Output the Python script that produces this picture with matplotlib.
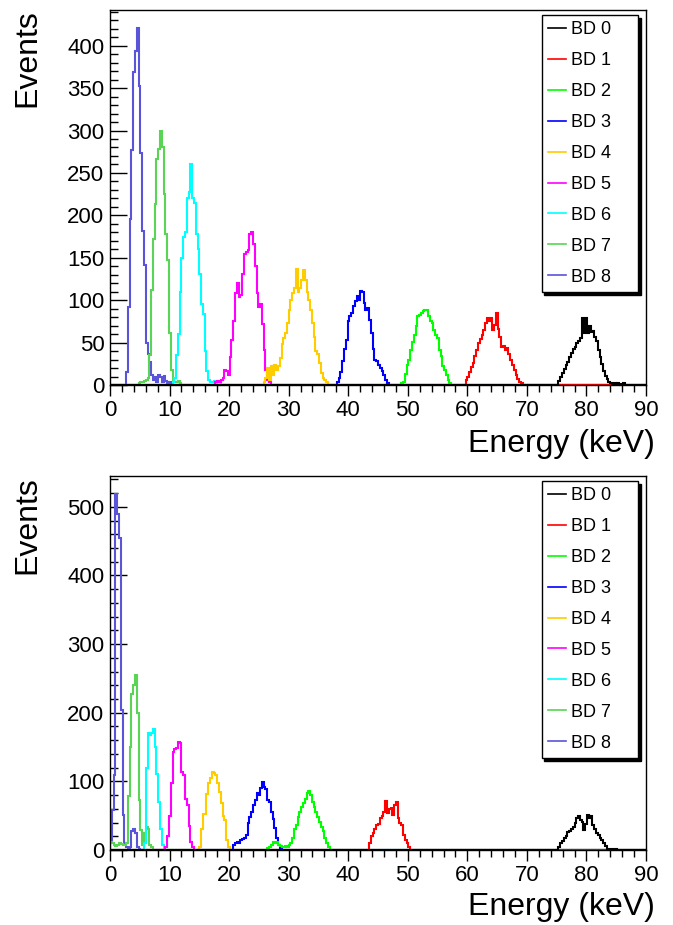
import numpy as np
import matplotlib
matplotlib.use('Agg')
import matplotlib.pyplot as plt
from matplotlib.lines import Line2D
from matplotlib.ticker import MultipleLocator

plt.rcParams['font.family'] = ['Liberation Sans', 'DejaVu Sans']

# Histogram binning (keV)
bin_width = 0.3
edges = np.arange(0, 90 + bin_width / 2, bin_width)

labels = [f'BD {i}' for i in range(9)]
colors = ['black', '#ff0000', '#00ff00', '#0000ff', '#ffcc00',
          '#ff00ff', '#00ffff', '#59d454', '#5954d8']

# Top panel: counts per bin, starting at the given energy (keV)
top_bd0_start = 75.3
top_bd0 = [5, 10, 14, 19, 24, 27, 33, 38, 43, 45, 49, 52, 55, 79, 61, 79, 61, 70,
           63, 64, 57, 52, 41, 33, 25, 17, 11, 7, 3, 2, 1, 2, 1, 2, 0, 1, 2]
top_bd1_start = 59.7
top_bd1 = [6, 10, 15, 21, 26, 34, 41, 49, 54, 59, 65, 73, 79, 75, 79, 65, 71, 85,
           66, 56, 45, 46, 41, 44, 36, 30, 24, 18, 12, 7, 4, 2]
top_bd2_start = 48.9
top_bd2 = [2, 4, 13, 23, 29, 41, 51, 59, 69, 81, 83, 85, 87, 89, 88, 81, 75, 73,
           65, 59, 55, 41, 34, 22, 18, 12, 6, 2]
top_bd3_start = 38.1
top_bd3 = [3, 8, 15, 28, 42, 53, 75, 81, 85, 93, 99, 105, 100, 111, 110, 97, 89,
           91, 77, 61, 42, 29, 28, 24, 20, 16, 12, 6, 2]
top_bd4_start = 25.8
top_bd4 = [4, 8, 20, 6, 22, 12, 24, 18, 22, 32, 48, 55, 61, 73, 89, 100, 108, 114,
           137, 110, 114, 124, 136, 124, 110, 100, 89, 73, 57, 40, 36, 26, 14, 8, 6, 3]
top_bd5_start = 17.7
top_bd5 = [3, 5, 4, 6, 8, 18, 17, 12, 33, 53, 76, 108, 120, 104, 106, 131, 155,
           157, 159, 178, 180, 166, 140, 108, 92, 95, 72, 41, 18, 6, 3]
top_bd6_start = 10.5
top_bd6 = [3, 8, 35, 60, 110, 150, 175, 180, 221, 227, 261, 221, 215, 178, 160,
           131, 96, 84, 40, 17, 6, 4, 3, 5, 2, 4, 3]
top_bd7_start = 4.8
top_bd7 = [2, 3, 4, 5, 6, 8, 35, 112, 172, 213, 266, 278, 299, 280, 225, 178, 147,
           61, 18, 6, 4, 3, 5, 2]
top_bd8_start = 2.7
top_bd8 = [15, 92, 196, 277, 369, 394, 421, 353, 274, 182, 142, 49, 37, 27, 12, 6,
           10, 4, 12, 9, 3, 11, 5, 2, 4]

# Bottom panel
bot_bd0_start = 75.3
bot_bd0 = [5, 10, 13, 18, 21, 26, 28, 30, 33, 39, 46, 49, 44, 41, 29, 38, 51, 47,
           50, 36, 31, 25, 22, 17, 14, 10, 6, 2, 1, 2, 1, 2, 1]
bot_bd1_start = 43.5
bot_bd1 = [10, 20, 25, 30, 36, 38, 46, 50, 56, 72, 54, 60, 61, 51, 65, 70, 46, 40,
           36, 22, 15, 10, 4]
bot_bd2_start = 26.4
bot_bd2 = [3, 5, 8, 12, 10, 12, 8, 6, 5, 4, 6, 5, 7, 10, 17, 30, 37, 48, 55, 62,
           68, 75, 83, 86, 80, 70, 62, 56, 48, 41, 34, 27, 18, 10, 4]
bot_bd3_start = 20.7
bot_bd3 = [8, 10, 12, 10, 14, 16, 18, 22, 39, 48, 56, 65, 73, 83, 80, 90, 99, 92,
           89, 73, 70, 56, 45, 32, 17, 8, 3]
bot_bd4_start = 15.0
bot_bd4 = [5, 30, 53, 53, 82, 97, 105, 114, 112, 109, 97, 85, 68, 50, 44, 15, 5]
bot_bd5_start = 9.3
bot_bd5 = [5, 20, 49, 97, 143, 147, 149, 157, 156, 113, 110, 75, 66, 35, 12, 4]
bot_bd6_start = 5.7
bot_bd6 = [10, 120, 170, 168, 170, 176, 150, 111, 70, 30, 8, 3]
bot_bd7_start = 0.0
bot_bd7 = [12, 10, 8, 6, 8, 10, 9, 7, 8, 10, 78, 150, 228, 240, 255, 199, 73, 29,
           8, 25, 33, 30, 8, 4]
bot_bd8_start = 0.0
bot_bd8 = [10, 58, 110, 519, 490, 454, 204, 51, 10, 4, 3, 5, 28, 30, 25, 5, 2]


def to_hist(start, counts):
    h = np.zeros(len(edges) - 1)
    i0 = int(round(start / bin_width))
    h[i0:i0 + len(counts)] = counts
    return h


top_hists = [to_hist(s, c) for s, c in [
    (top_bd0_start, top_bd0), (top_bd1_start, top_bd1), (top_bd2_start, top_bd2),
    (top_bd3_start, top_bd3), (top_bd4_start, top_bd4), (top_bd5_start, top_bd5),
    (top_bd6_start, top_bd6), (top_bd7_start, top_bd7), (top_bd8_start, top_bd8)]]
bot_hists = [to_hist(s, c) for s, c in [
    (bot_bd0_start, bot_bd0), (bot_bd1_start, bot_bd1), (bot_bd2_start, bot_bd2),
    (bot_bd3_start, bot_bd3), (bot_bd4_start, bot_bd4), (bot_bd5_start, bot_bd5),
    (bot_bd6_start, bot_bd6), (bot_bd7_start, bot_bd7), (bot_bd8_start, bot_bd8)]]


def draw_panel(ax, hists, ymajor, yminor):
    # draw BD 8 first so the black BD 0 ends up on top along the baseline
    for i in reversed(range(9)):
        ax.stairs(hists[i], edges, color=colors[i], lw=1.5, zorder=3 + (8 - i))
    ax.set_xlim(0, 90)
    ax.set_ylim(0, 1.05 * max(h.max() for h in hists))
    ax.xaxis.set_major_locator(MultipleLocator(10))
    ax.xaxis.set_minor_locator(MultipleLocator(2))
    ax.yaxis.set_major_locator(MultipleLocator(ymajor))
    ax.yaxis.set_minor_locator(MultipleLocator(yminor))
    ax.tick_params(axis='x', which='major', direction='out', length=8, width=1,
                   labelsize=16, pad=3)
    ax.tick_params(axis='x', which='minor', direction='out', length=5, width=1)
    ax.tick_params(axis='y', which='major', direction='in', length=12, width=1,
                   labelsize=16, pad=4)
    ax.tick_params(axis='y', which='minor', direction='in', length=5.5, width=1)
    for sp in ax.spines.values():
        sp.set_linewidth(1)
        sp.set_zorder(20)
    handles = [Line2D([], [], color=colors[i], lw=1.2) for i in range(9)]
    leg = ax.legend(handles, labels, loc='upper left',
                    bbox_to_anchor=(0.8054, 0.24, 0.18, 0.7467), mode='expand',
                    borderaxespad=0, fontsize=13, labelspacing=0.77,
                    handlelength=1.0, handletextpad=0.25, borderpad=0.35,
                    fancybox=False, edgecolor='black',
                    shadow={'color': 'black', 'alpha': 1.0})
    leg.get_frame().set_linewidth(1.0)
    leg.set_zorder(30)


fig = plt.figure(figsize=(6.73, 9.25), dpi=100)
ax_top = fig.add_axes([0.16345, 0.58378, 0.79643, 0.40541])
ax_bot = fig.add_axes([0.16345, 0.08108, 0.79643, 0.40432])

draw_panel(ax_top, top_hists, 50, 10)
draw_panel(ax_bot, bot_hists, 100, 20)

fig.text(0.9733, 0.5114, 'Energy (keV)', ha='right', va='baseline', fontsize=23)
fig.text(0.9733, 0.0108, 'Energy (keV)', ha='right', va='baseline', fontsize=23)
fig.text(0.040, 0.9373, 'Events', ha='center', va='center', rotation=90, fontsize=23)
fig.text(0.040, 0.4324, 'Events', ha='center', va='center', rotation=90, fontsize=23)

fig.savefig('out.png', dpi=100)
